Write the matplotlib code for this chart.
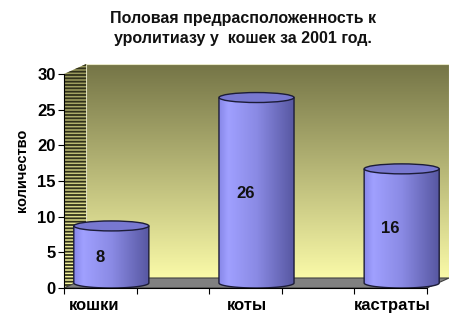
import numpy as np
import matplotlib.pyplot as plt
from matplotlib.patches import Polygon, Ellipse, PathPatch
from matplotlib.path import Path

# data
categories = ['кошки', 'коты', 'кастраты']
counts = [8, 26, 16]
y_ticks = [0, 5, 10, 15, 20, 25, 30]
title = 'Половая предрасположенность к\nуролитиазу у  кошек за 2001 год.'
y_label = 'количество'

plt.rcParams['font.family'] = ['Liberation Sans', 'DejaVu Sans']
plt.rcParams['hatch.linewidth'] = 1.3

W, H = 455, 326
fig = plt.figure(figsize=(W / 100, H / 100), dpi=100)
ax = fig.add_axes([64 / W, (H - 288) / H, (449 - 64) / W, (288 - 64) / H])

# fake 3d: wall depth offset in data units
x0, x1 = -0.25, 2.25
ymax = 30
dx, dy = 0.152, 1.4


def grad(c_a, c_b, n=256):
    c_a = np.array(c_a) / 255.0
    c_b = np.array(c_b) / 255.0
    t = np.linspace(0, 1, n)[:, None]
    return c_a + (c_b - c_a) * t


# back wall, olive at top fading to pale yellow
wall = Polygon([(x0 + dx, dy), (x1 + dx, dy), (x1 + dx, ymax + dy), (x0 + dx, ymax + dy)],
               closed=True, facecolor='none', edgecolor='#e8e8c8', lw=0.8, zorder=1)
ax.add_patch(wall)
im = ax.imshow(grad((116, 116, 70), (250, 250, 168))[:, None, :],
               extent=(x0 + dx, x1 + dx, dy, ymax + dy), origin='upper',
               aspect='auto', zorder=0.5)
im.set_clip_path(wall)

# left wall with stripes
side = Polygon([(x0, 0), (x0 + dx, dy), (x0 + dx, ymax + dy), (x0, ymax)], closed=True,
               facecolor='none', edgecolor='#30301a', hatch='-----', lw=0, zorder=1.2)
ax.add_patch(side)
im2 = ax.imshow(grad((150, 150, 90), (252, 252, 160))[:, None, :],
                extent=(x0, x0 + dx, 0, ymax + dy), origin='upper', aspect='auto', zorder=1.1)
im2.set_clip_path(side)

# floor
ax.add_patch(Polygon([(x0, 0), (x1, 0), (x1 + dx, dy), (x0 + dx, dy)], closed=True,
                     facecolor='#808080', edgecolor='#404040', lw=0.8, zorder=2))

# cylinders, sitting at half depth
w = 0.517
eh = 1.4
ox, oy = dx / 2, dy / 2
body_cols = np.array([(135, 135, 232), (160, 160, 255), (138, 138, 228), (86, 86, 160)]) / 255.0
stops = [0, 0.12, 0.5, 1.0]
xs = np.linspace(0, 1, 200)
body_img = np.stack([np.interp(xs, stops, body_cols[:, k]) for k in range(3)], axis=-1)[None, :, :]

for i, v in enumerate(counts):
    cx = i + ox
    L, R = cx - w / 2, cx + w / 2
    b, t = oy, v + oy
    th = np.linspace(np.pi, 2 * np.pi, 60)
    verts = [(L, t), (L, b)] + [(cx + w / 2 * np.cos(a), b + eh / 2 * np.sin(a)) for a in th] + [(R, t), (L, t)]
    body = PathPatch(Path(verts), facecolor='none', edgecolor='#1c1c38', lw=1.0, zorder=3.2)
    ax.add_patch(body)
    bim = ax.imshow(body_img, extent=(L, R, b - eh / 2, t), aspect='auto', zorder=3.0)
    bim.set_clip_path(body)
    ax.add_patch(Ellipse((cx, t), w, eh, facecolor='#7878d0', edgecolor='#1c1c38', lw=1.0, zorder=3.4))
    ax.text(i, v / 2 + 0.3, str(v), ha='center', va='center', fontsize=12,
            fontweight='bold', color='#111111', zorder=5)

ax.set_xlim(x0, x1 + dx)
ax.set_ylim(0, ymax + dy)

# front axes
for s in ['top', 'right']:
    ax.spines[s].set_visible(False)
ax.spines['left'].set_bounds(0, ymax)
ax.spines['bottom'].set_bounds(x0, x1)
ax.spines['left'].set_zorder(6)
ax.spines['bottom'].set_zorder(6)
ax.set_yticks(y_ticks)
ax.set_yticklabels([str(y) for y in y_ticks], fontsize=12, fontweight='bold')
ax.tick_params(axis='y', length=4, width=0.8, pad=2)
ax.set_xticks(np.arange(x0, x1 + 0.01, 0.5))
ax.set_xticklabels([])
ax.tick_params(axis='x', which='major', length=4, width=0.8)
ax.set_xticks([-0.04, 1.01, 2.01], minor=True)
ax.set_xticklabels(categories, minor=True, fontsize=12, fontweight='bold')
ax.tick_params(axis='x', which='minor', length=0, pad=7)

fig.text(22 / W, 1 - 170 / H, y_label, rotation=90, ha='center', va='center',
         fontsize=10.5, fontweight='bold')
fig.text(243 / W, 1 - 28.5 / H, title, ha='center', va='center', fontsize=11.5,
         fontweight='bold', linespacing=1.4, color='#111111')

fig.savefig('out.png', dpi=100)
